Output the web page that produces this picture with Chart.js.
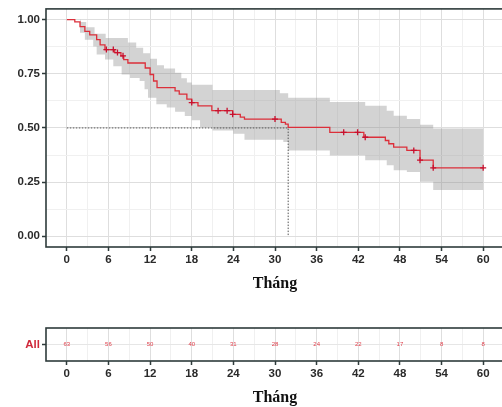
<!DOCTYPE html>
<html>
<head>
<meta charset="utf-8">
<script src="https://cdn.jsdelivr.net/npm/chart.js@4.4.0/dist/chart.umd.min.js"></script>
<style>
  html, body { margin: 0; padding: 0; background: #fff; }
  #wrap { position: relative; width: 502px; height: 407px; overflow: hidden; }
  #km { position: absolute; left: 0; top: 0; }
  #risk { position: absolute; left: 0; top: 300px; }
</style>
</head>
<body>
<div id="wrap">
<canvas id="km" width="506" height="300"></canvas>
<canvas id="risk" width="506" height="107"></canvas>
</div>
<script>
// Kaplan-Meier curve (time in months, survival after each step)
var kmTime = [0, 1.15, 1.9, 2.6, 3.3, 4.3, 4.8, 5.5, 6.9, 7.8, 8.2, 8.8, 11.3, 12.0, 12.5, 13.0, 15.6, 16.2, 17.3, 18.0, 18.9, 20.9, 23.9, 25.0, 25.6, 30.9, 31.5, 31.9, 37.9, 42.8, 45.9, 46.4, 47.1, 49.0, 50.9, 52.8, 60];
var kmSurv = [1.0, 0.99, 0.968, 0.946, 0.93, 0.908, 0.884, 0.862, 0.848, 0.833, 0.816, 0.80, 0.777, 0.747, 0.717, 0.686, 0.671, 0.656, 0.633, 0.617, 0.602, 0.580, 0.563, 0.550, 0.541, 0.526, 0.518, 0.503, 0.480, 0.457, 0.442, 0.427, 0.411, 0.396, 0.351, 0.316, 0.316];

// confidence band
var upperTime = [0, 2.0, 2.8, 4.0, 5.6, 8.8, 10.0, 11.0, 12.0, 13.0, 14.0, 15.6, 16.5, 17.3, 18.0, 21.0, 30.7, 31.9, 37.9, 43.0, 46.1, 47.1, 49.0, 50.9, 52.8, 60];
var upperVal  = [1.0, 0.99, 0.965, 0.935, 0.915, 0.895, 0.87, 0.845, 0.82, 0.79, 0.775, 0.755, 0.73, 0.71, 0.70, 0.675, 0.66, 0.64, 0.62, 0.602, 0.579, 0.556, 0.541, 0.515, 0.498, 0.498];
var lowerTime = [0, 1.9, 2.6, 3.8, 4.3, 5.5, 6.7, 7.9, 9.1, 10.5, 11.2, 11.7, 12.9, 14.4, 15.6, 17.0, 18.0, 19.2, 21.0, 24.0, 25.6, 31.2, 31.9, 37.9, 43.0, 46.1, 47.1, 49.0, 50.9, 52.8, 60];
var lowerVal  = [1.0, 0.94, 0.907, 0.876, 0.839, 0.816, 0.785, 0.747, 0.731, 0.717, 0.679, 0.640, 0.61, 0.594, 0.575, 0.555, 0.535, 0.503, 0.488, 0.473, 0.445, 0.435, 0.396, 0.373, 0.351, 0.328, 0.305, 0.297, 0.251, 0.213, 0.213];

// censored observations
var censorTime = [5.7, 6.7, 7.3, 8.1, 18.0, 21.8, 23.1, 23.9, 30.0, 39.9, 41.9, 43.0, 50.0, 50.9, 52.8, 60];

var medianTime = 31.9;

// number at risk
var riskTime  = [0, 6, 12, 18, 24, 30, 36, 42, 48, 54, 60];
var riskCount = [63, 56, 50, 40, 31, 28, 24, 22, 17, 8, 8];

var xTicks = [0, 6, 12, 18, 24, 30, 36, 42, 48, 54, 60];
var yTicks = [0, 0.25, 0.5, 0.75, 1.0];

var RED = '#dc2f3a';
var AXIS = '#2e3b3b';
var tickFont = { family: 'Liberation Sans', size: 11.5, weight: 'bold' };
var titleFont = { family: 'Liberation Serif', size: 16, weight: 'bold' };

function survAt(t) {
  var s = kmSurv[0];
  for (var i = 0; i < kmTime.length; i++) {
    if (kmTime[i] <= t) s = kmSurv[i];
  }
  return s;
}
function pts(xs, ys) {
  return xs.map(function (x, i) { return { x: x, y: ys[i] }; });
}

var xGrid = [];
for (var i = 0; i < xTicks.length; i++) {
  xGrid.push(xTicks[i]);
  if (i < xTicks.length - 1) xGrid.push((xTicks[i] + xTicks[i + 1]) / 2);
}
var yGrid = [];
for (i = 0; i < yTicks.length; i++) {
  yGrid.push(yTicks[i]);
  if (i < yTicks.length - 1) yGrid.push((yTicks[i] + yTicks[i + 1]) / 2);
}

function isMajor(list, v) {
  for (var k = 0; k < list.length; k++) if (Math.abs(list[k] - v) < 1e-9) return true;
  return false;
}

var panelBorder = {
  id: 'panelBorder',
  afterDatasetsDraw: function (chart) {
    var a = chart.chartArea, c = chart.ctx;
    c.save();
    c.strokeStyle = AXIS;
    c.lineWidth = 1.6;
    c.strokeRect(a.left, a.top, a.right - a.left, a.bottom - a.top);
    c.restore();
  }
};

function xScale(titlePad, height) {
  return {
    type: 'linear', min: -3, max: 63,
    afterBuildTicks: function (s) { s.ticks = xGrid.map(function (v) { return { value: v }; }); },
    afterFit: function (s) { s.height = height; },
    ticks: {
      autoSkip: false, maxRotation: 0, padding: 2, color: '#2a2a2a', font: tickFont,
      callback: function (v) { return isMajor(xTicks, v) ? String(v) : ''; }
    },
    grid: {
      color: function (ctx) { return ctx.tick && isMajor(xTicks, ctx.tick.value) ? '#dedede' : '#f0f0f0'; },
      tickColor: function (ctx) { return ctx.tick && isMajor(xTicks, ctx.tick.value) ? AXIS : 'rgba(0,0,0,0)'; },
      tickLength: 4, tickWidth: 1.5
    },
    border: { display: false },
    title: { display: true, text: 'Tháng', color: '#111', font: titleFont, padding: { top: 0, bottom: titlePad } }
  };
}

new Chart(document.getElementById('km'), {
  type: 'line',
  data: {
    datasets: [
      {
        data: censorTime.map(function (t) { return { x: t, y: survAt(t) }; }),
        showLine: false, pointStyle: 'cross', pointRadius: 3, pointBorderColor: '#c8102e', pointBorderWidth: 1.3
      },
      {
        data: pts(kmTime, kmSurv), stepped: true, borderColor: RED, borderWidth: 1.3, pointRadius: 0, fill: false
      },
      {
        data: [{ x: 0, y: 0.5 }, { x: medianTime, y: 0.5 }, { x: medianTime, y: 0 }],
        borderColor: '#555', borderWidth: 1, borderDash: [1.5, 1.5], pointRadius: 0, fill: false
      },
      {
        data: pts(upperTime, upperVal), stepped: true, borderWidth: 0, pointRadius: 0,
        fill: '+1', backgroundColor: 'rgba(140,140,140,0.38)'
      },
      {
        data: pts(lowerTime, lowerVal), stepped: true, borderWidth: 0, pointRadius: 0, fill: false
      }
    ]
  },
  options: {
    responsive: false, animation: false,
    layout: { autoPadding: false, padding: { top: 7, right: 2, left: 0, bottom: 0 } },
    plugins: { legend: { display: false }, tooltip: { enabled: false } },
    scales: {
      x: xScale(7, 53),
      y: {
        type: 'linear', min: -0.05, max: 1.05,
        afterBuildTicks: function (s) { s.ticks = yGrid.map(function (v) { return { value: v }; }); },
        afterFit: function (s) { s.width = 46; },
        ticks: {
          padding: 2, color: '#2a2a2a', font: tickFont,
          callback: function (v) { return isMajor(yTicks, v) ? v.toFixed(2) : ''; }
        },
        grid: {
          color: function (ctx) { return ctx.tick && isMajor(yTicks, ctx.tick.value) ? '#dedede' : '#f0f0f0'; },
          tickColor: function (ctx) { return ctx.tick && isMajor(yTicks, ctx.tick.value) ? AXIS : 'rgba(0,0,0,0)'; },
          tickLength: 4, tickWidth: 1.5
        },
        border: { display: false }
      }
    }
  },
  plugins: [panelBorder]
});

var riskLabels = {
  id: 'riskLabels',
  afterDatasetsDraw: function (chart) {
    var meta = chart.getDatasetMeta(0), c = chart.ctx;
    c.save();
    c.fillStyle = '#e0404c';
    c.font = '6px "Liberation Sans"';
    c.textAlign = 'center';
    c.textBaseline = 'middle';
    meta.data.forEach(function (p, i) { c.fillText(String(riskCount[i]), p.x, p.y); });
    c.restore();
  }
};

new Chart(document.getElementById('risk'), {
  type: 'line',
  data: {
    datasets: [{
      data: riskTime.map(function (t) { return { x: t, y: 1 }; }),
      showLine: false, pointRadius: 0
    }]
  },
  options: {
    responsive: false, animation: false,
    layout: { autoPadding: false, padding: { top: 28, right: 2, left: 0, bottom: 0 } },
    plugins: { legend: { display: false }, tooltip: { enabled: false } },
    scales: {
      x: xScale(0, 46),
      y: {
        type: 'linear', min: 0, max: 2,
        afterBuildTicks: function (s) { s.ticks = [{ value: 1 }]; },
        afterFit: function (s) { s.width = 46; },
        ticks: { padding: 2, color: '#d0283a', font: tickFont, callback: function () { return 'All'; } },
        grid: { color: '#e6e6e6', tickColor: AXIS, tickLength: 4, tickWidth: 1.5 },
        border: { display: false }
      }
    }
  },
  plugins: [panelBorder, riskLabels]
});
</script>
</body>
</html>
